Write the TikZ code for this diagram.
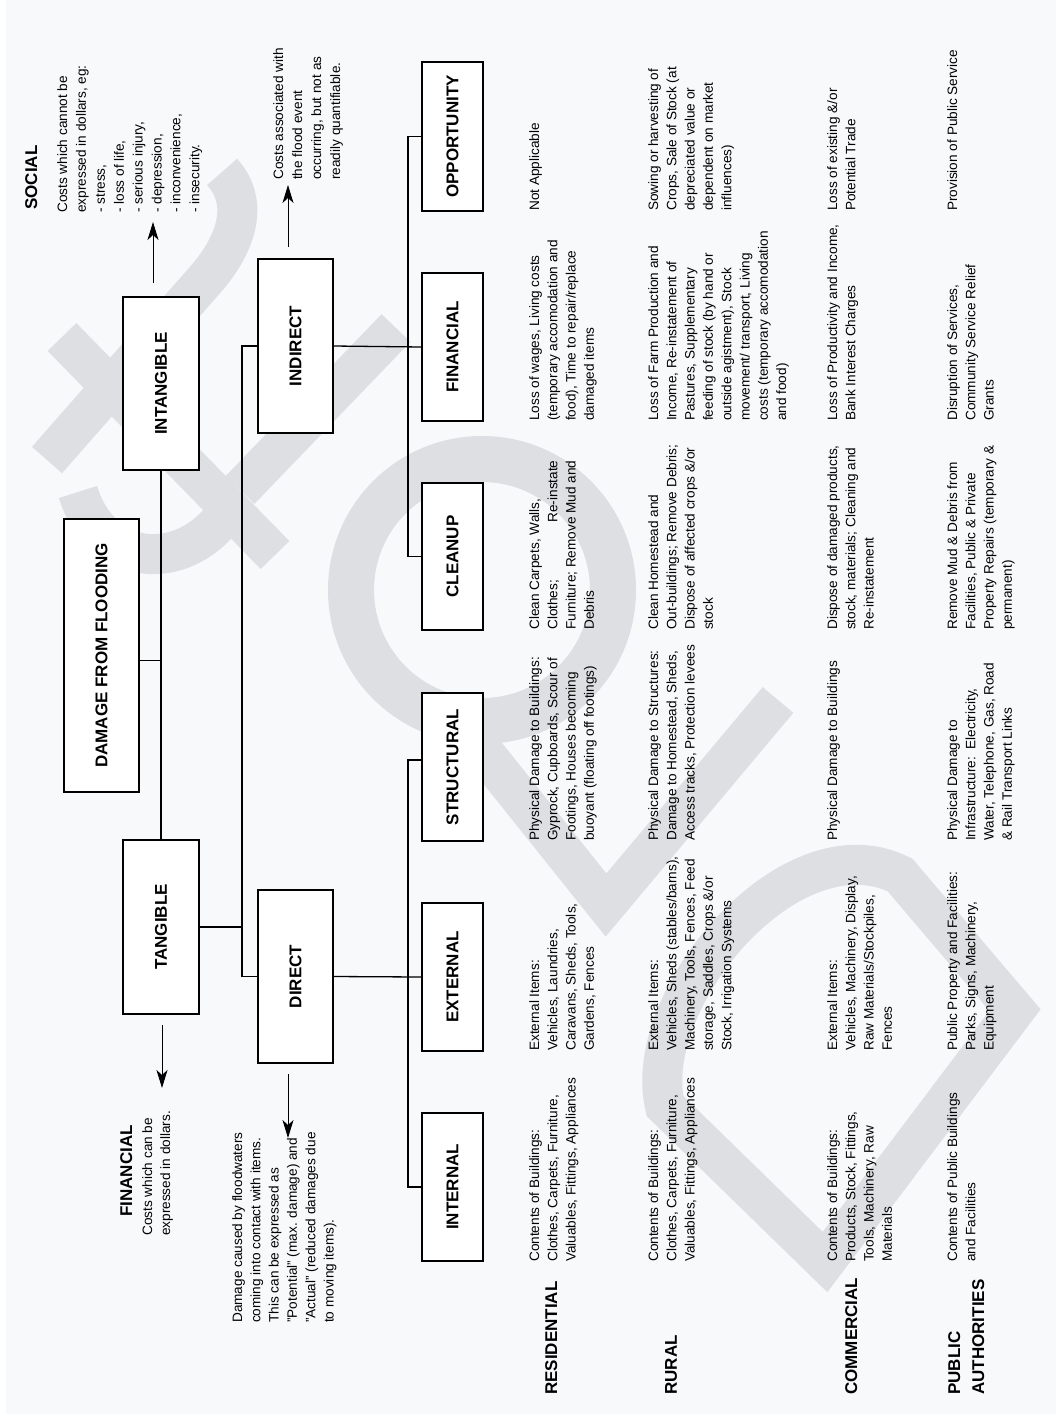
\documentclass[tikz,border=0pt]{standalone}
\usepackage{fontspec}
\setmainfont{Liberation Sans}
\usepackage{calc}
\usetikzlibrary{arrows.meta,calc}
\definecolor{bgc}{RGB}{248,249,250}
\definecolor{wmc}{RGB}{222,223,226}
\tikzset{
  wm/.style={draw=wmc, line width=40pt, line cap=butt, line join=miter},
  box/.style={draw=black, fill=white, line width=1.4pt, rotate=90, inner sep=0pt,
    font=\bfseries\fontsize{17}{20}\selectfont},
  conn/.style={line width=1.3pt},
  arr/.style={line width=1pt, -{Stealth[length=18pt,width=11pt,inset=5pt]}},
  body/.style={rotate=90, anchor=north west, inner sep=0pt, align=left,
    font=\fontsize{13.6}{18.3}\selectfont},
  head/.style={rotate=90, anchor=north west, inner sep=0pt, align=left,
    font=\bfseries\fontsize{17}{24}\selectfont},
}
\begin{document}
\begin{tikzpicture}[x=1pt,y=-1pt]
\useasboundingbox (0,0) rectangle (1056,1414);
\fill[bgc] (0,0) rectangle (1056,1414);
\fill[white] (0,0) rectangle (6,1414);
% watermark
\draw[wm] (47,460) -- (205,280) .. controls (240,240) and (248,200) .. (222,172);
\draw[wm] (62,337) -- (275,555);
\draw[wm] (78,492) .. controls (100,565) and (180,575) .. (225,515);
\draw[wm] (396,328) -- (240,490);
\draw[wm, line width=46pt] (482,590) circle[radius=131];
\draw[wm] (470,735) -- (606,905) -- (778,700);
\draw[wm] (825,1262) -- (1015,1010) -- (900,875) .. controls (790,820) and (640,1000) .. (665,1106) -- cycle;

% boxes
\node[box, minimum width=273pt, minimum height=75pt] (dmg) at (101.5,655.5) {DAMAGE FROM FLOODING};
\node[box, minimum width=173pt, minimum height=76pt] (intang) at (161,383.5) {INTANGIBLE};
\node[box, minimum width=174pt, minimum height=76pt] (tang) at (161,927) {TANGIBLE};
\node[box, minimum width=174pt, minimum height=75pt] (indirect) at (295.5,346) {INDIRECT};
\node[box, minimum width=173pt, minimum height=75pt] (direct) at (295.5,976.5) {DIRECT};
\node[box, minimum width=149pt, minimum height=61pt] (opp) at (452.5,136.5) {OPPORTUNITY};
\node[box, minimum width=148pt, minimum height=61pt] (fin) at (452.5,347) {FINANCIAL};
\node[box, minimum width=147pt, minimum height=61pt] (clean) at (452.5,556.5) {CLEANUP};
\node[box, minimum width=148pt, minimum height=61pt] (struct) at (452.5,767) {STRUCTURAL};
\node[box, minimum width=148pt, minimum height=61pt] (ext) at (452.5,977) {EXTERNAL};
\node[box, minimum width=148pt, minimum height=61pt] (intern) at (452.5,1187) {INTERNAL};

% connectors
\coordinate (busA) at (242,0);
\coordinate (busB) at (408,0);
\draw[conn] (intang.west) -- (tang.east);
\draw[conn] ([yshift=-5pt]dmg.south) -- ([yshift=-5pt]dmg.south -| tang.east);
\draw[conn] (tang.south) -- (tang.south -| busA);
\draw[conn] (indirect.north) -- (indirect.north -| busA) -- (direct.north -| busA) -- (direct.north);
\draw[conn] (indirect.south) -- (fin.north);
\draw[conn] (opp.north) -- (opp.north -| busB) -- (clean.north -| busB) -- (clean.north);
\draw[conn] (direct.south) -- (ext.north);
\draw[conn] ([yshift=7pt]struct.north) -- ([yshift=7pt]struct.north -| busB) -- (intern.north -| busB) -- (intern.north);

% arrows
\coordinate (a1s) at (153,283); \coordinate (a1e) at (153,222);
\coordinate (a2s) at (288,247); \coordinate (a2e) at (288,185);
\coordinate (a3s) at (162,1025); \coordinate (a3e) at (162,1088);
\coordinate (a4s) at (288,1074); \coordinate (a4e) at (288,1138);
\draw[arr] (a1s) -- (a1e);
\draw[arr] (a2s) -- (a2e);
\draw[arr] (a3s) -- (a3e);
\draw[arr] (a4s) -- (a4e);

% annotations
\node[head] (socialT) at (25,210) {SOCIAL};
\node[body, font=\fontsize{13.6}{18.9}\selectfont] (socialB) at (57,213) {Costs which cannot be\\expressed in dollars, eg:\\- stress,\\- loss of life,\\- serious injury,\\- depression,\\- inconvenience,\\- insecurity.};
\node[body, font=\fontsize{13.6}{19}\selectfont] (indnote) at (273,180) {Costs associated with\\the flood event\\occurring, but not as\\readily quantifiable.};
\node[rotate=90, anchor=north, inner sep=0pt, font=\bfseries\fontsize{17}{20}\selectfont] (finT) at (120,1171) {FINANCIAL};
\node[body, font=\fontsize{13.6}{18}\selectfont] (finB) at (142,1236) {Costs which can be\\expressed in dollars.};
\node[body] (dirnote) at (232,1323) {Damage caused by floodwaters\\coming into contact with items.\\This can be expressed as\\"Potential" (max. damage) and\\"Actual" (reduced damages due\\to moving items).};

% row headers
\node[head] (hres) at (545,1395) {RESIDENTIAL};
\node[head] (hrur) at (665,1395) {RURAL};
\node[head] (hcom) at (845,1395) {COMMERCIAL};
\node[head] (hpub) at (948,1395) {PUBLIC\\AUTHORITIES};

% residential
\node[body] (r1) at (529,1262) {Contents of Buildings:\\Clothes, Carpets, Furniture,\\Valuables, Fittings, Appliances};
\node[body] (r2) at (529,1051) {External Items:\\Vehicles, Laundries,\\Caravans, Sheds, Tools,\\Gardens, Fences};
\node[body] (r3) at (529,841) {Physical Damage to Buildings:\\Gyprock, Cupboards, Scour of\\Footings, Houses becoming\\buoyant (floating off footings)};
\node[body] (r4) at (529,630) {Clean Carpets, Walls,\\\makebox[\widthof{Furniture; Remove Mud and}][l]{Clothes;\hfill Re-instate}\\Furniture; Remove Mud and\\Debris};
\node[body] (r5) at (529,421) {Loss of wages, Living costs\\(temporary accomodation and\\food), Time to repair/replace\\damaged items};
\node[body] (r6) at (529,211) {Not Applicable};

% rural
\node[body] (u1) at (648,1262) {Contents of Buildings:\\Clothes, Carpets, Furniture,\\Valuables, Fittings, Appliances};
\node[body] (u2) at (648,1051) {External Items:\\Vehicles, Sheds (stables/barns),\\Machinery, Tools, Fences, Feed\\storage, Saddles, Crops \&/or\\Stock, Irrigation Systems};
\node[body] (u3) at (648,841) {Physical Damage to Structures:\\Damage to Homestead, Sheds,\\Access tracks, Protection levees};
\node[body] (u4) at (648,630) {Clean Homestead and\\Out-buildings; Remove Debris;\\Dispose of affected crops \&/or\\stock};
\node[body] (u5) at (648,421) {Loss of Farm Production and\\Income, Re-instatement of\\Pastures, Supplementary\\feeding of stock (by hand or\\outside agistment), Stock\\movement/ transport, Living\\costs (temporary accomodation\\and food)};
\node[body] (u6) at (648,211) {Sowing or harvesting of\\Crops, Sale of Stock (at\\depreciated value or\\dependent on market\\influences)};

% commercial
\node[body] (c1) at (827,1262) {Contents of Buildings:\\Products, Stock, Fittings,\\Tools, Machinery, Raw\\Materials};
\node[body] (c2) at (827,1051) {External Items:\\Vehicles, Machinery, Display,\\Raw Materials/Stockpiles,\\Fences};
\node[body] (c3) at (827,841) {Physical Damage to Buildings};
\node[body] (c4) at (827,630) {Dispose of damaged products,\\stock, materials; Cleaning and\\Re-instatement};
\node[body] (c5) at (827,421) {Loss of Productivity and Income,\\Bank Interest Charges};
\node[body] (c6) at (827,211) {Loss of existing \&/or\\Potential Trade};

% public authorities
\node[body] (p1) at (947,1262) {Contents of Public Buildings\\and Facilities};
\node[body] (p2) at (947,1051) {Public Property and Facilities:\\Parks, Signs, Machinery,\\Equipment};
\node[body] (p3) at (947,841) {Physical Damage to\\Infrastructure:\ \ Electricity,\\Water, Telephone, Gas, Road\\\& Rail Transport Links};
\node[body] (p4) at (947,630) {Remove Mud \& Debris from\\Facilities, Public \& Private\\Property Repairs (temporary \&\\permanent)};
\node[body] (p5) at (947,421) {Disruption of Services,\\Community Service Relief\\Grants};
\node[body] (p6) at (947,211) {Provision of Public Service};
\end{tikzpicture}
\end{document}
